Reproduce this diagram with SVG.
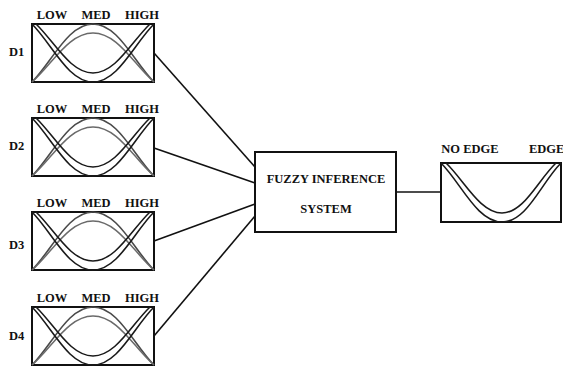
<svg xmlns="http://www.w3.org/2000/svg" xmlns:xlink="http://www.w3.org/1999/xlink" width="563" height="366" viewBox="0 0 563 366">
<style>
text{font-family:"Liberation Serif","Times New Roman",serif;font-weight:bold;font-size:12.5px;fill:#111}
.box{fill:#fff;stroke:#111;stroke-width:2}
.u{fill:none;stroke:#1a1a1a;stroke-width:1.6}
.a1{fill:none;stroke:#4a4a4a;stroke-width:1.6}
.a2{fill:none;stroke:#6a6a6a;stroke-width:1.5}
.conn{stroke:#111;stroke-width:1.6;fill:none}
.m{text-anchor:middle}
</style>
<defs>
<g id="mf">
<rect class="box" x="0" y="0" width="122" height="58"/>
<path class="a1" d="M0,58 C20,38 36,0 61,0 C86,0 102,38 122,58"/>
<path class="a2" d="M0,58 C20,41 36,9 61,9 C86,9 102,41 122,58"/>
<path class="u" d="M0,0 C20,20 36,58 61,58 C86,58 102,20 122,0"/>
<path class="u" d="M4,0 C22,17 38,49 61,49 C84,49 100,17 118,0"/>
<text class="m" x="20" y="-5">LOW</text>
<text class="m" x="64" y="-5">MED</text>
<text class="m" x="110" y="-5">HIGH</text>
</g>
</defs>
<g id="connectors">
<line class="conn" x1="154" y1="53" x2="255" y2="167"/>
<line class="conn" x1="154" y1="148" x2="255" y2="183"/>
<line class="conn" x1="154" y1="241" x2="255" y2="204"/>
<line class="conn" x1="154" y1="336" x2="255" y2="216"/>
<line class="conn" x1="396" y1="192" x2="441" y2="192"/>
</g>
<g id="D1">
<use xlink:href="#mf" href="#mf" transform="translate(32,24)"/>
<text x="9" y="56">D1</text>
</g>
<g id="D2">
<use xlink:href="#mf" href="#mf" transform="translate(32,118)"/>
<text x="9" y="150">D2</text>
</g>
<g id="D3">
<use xlink:href="#mf" href="#mf" transform="translate(32,212)"/>
<text x="9" y="249">D3</text>
</g>
<g id="D4">
<use xlink:href="#mf" href="#mf" transform="translate(32,307)"/>
<text x="9" y="340">D4</text>
</g>
<g id="FIS">
<rect class="box" x="255" y="152" width="141" height="80"/>
<text class="m" x="326" y="183">FUZZY INFERENCE</text>
<text class="m" x="326" y="213">SYSTEM</text>
</g>
<g id="output">
<rect class="box" x="441" y="163" width="120" height="59"/>
<path class="u" d="M441,163 C461,183 477,222 502,222 C527,222 541,183 561,163"/>
<path class="u" d="M446,163 C464,180 480,213 502,213 C524,213 538,180 556,163"/>
<text class="m" x="470" y="153">NO EDGE</text>
<text x="529" y="153">EDGE</text>
</g>
</svg>
